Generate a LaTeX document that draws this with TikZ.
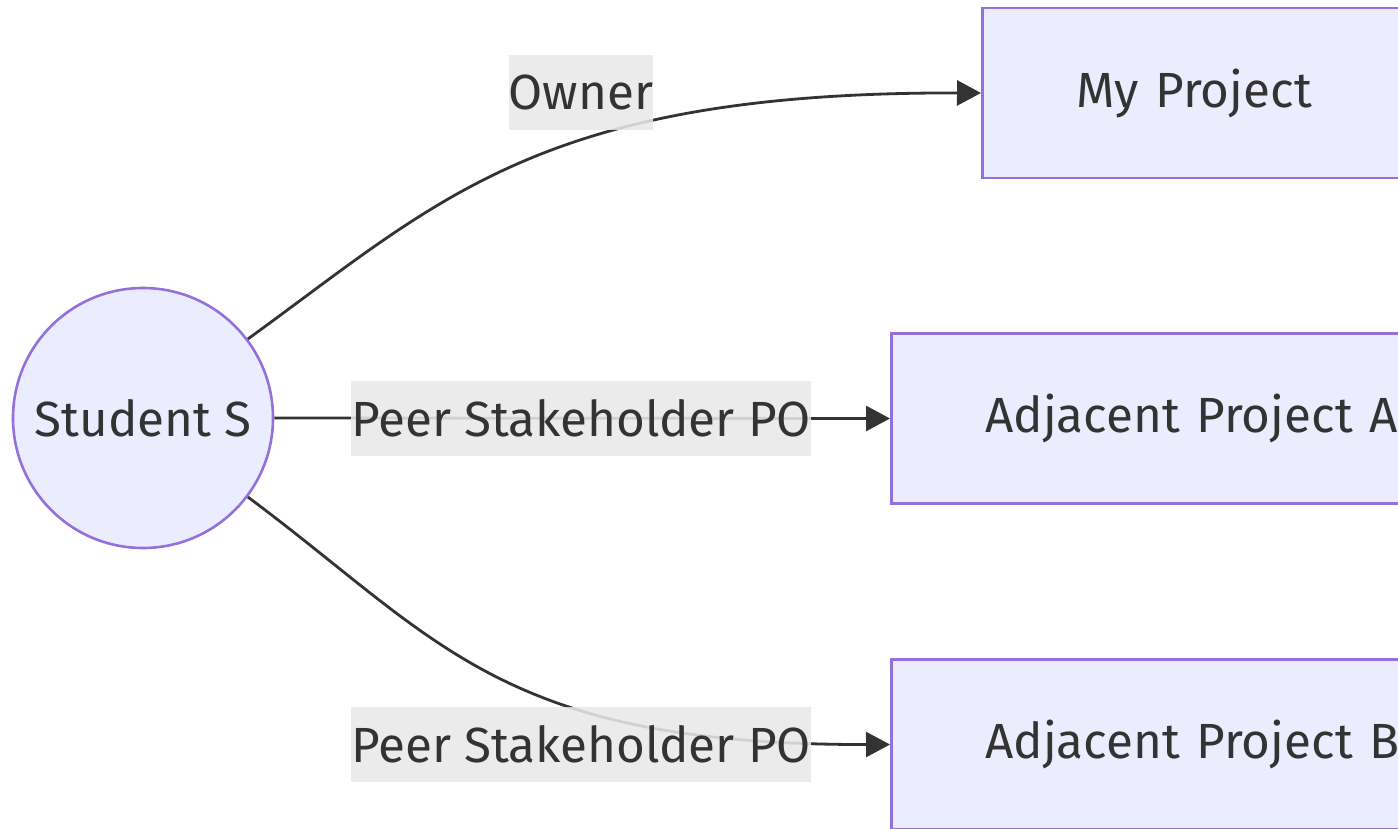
\documentclass[tikz,border=0pt]{standalone}
\usepackage{fontspec}
\setmainfont{Fira Sans}
\usetikzlibrary{arrows.meta}
\definecolor{nodefill}{HTML}{ECECFF}
\definecolor{nodeline}{HTML}{9370DB}
\definecolor{ink}{HTML}{333333}
\definecolor{lblbg}{HTML}{E8E8E8}
\begin{document}
\begin{tikzpicture}[x=1pt,y=-1pt,
  every node/.style={font=\fontsize{49.4}{59}\selectfont, text=ink},
  circ/.style={circle, draw=nodeline, fill=nodefill, line width=2.6pt, minimum size=260pt, inner sep=0pt},
  box/.style={rectangle, draw=nodeline, fill=nodefill, line width=2.6pt, minimum height=170pt, anchor=west, inner xsep=94pt, inner ysep=0pt, text width=600pt, align=left},
  lbl/.style={fill=lblbg, fill opacity=0.88, text opacity=1, inner xsep=0pt, inner ysep=0pt, minimum height=75pt},
  edge/.style={draw=ink, line width=2.8pt, -{Triangle[length=24pt,width=25pt]}}]
\useasboundingbox (0,0) rectangle (1398,829);
\clip (0,0) rectangle (1398,829);
\node[circ] (s) at (143,418) {Student S};
\node[box] (p) at (981,93) {My Project};
\node[box] (a) at (890,418.5) {Adjacent Project A};
\node[box] (b) at (890,744.5) {Adjacent Project B};
\draw[edge] (s.37) .. controls (440,200) and (540,92) .. (p.west);
\draw[edge] (s.east) -- (a.west);
\draw[edge] (s.-37) .. controls (440,640) and (500,745) .. (b.west);
\node[lbl] (l1) at (581,92.5) {Owner};
\node[lbl] (l2) at (581,418.5) {Peer Stakeholder PO};
\node[lbl] (l3) at (581,744.5) {Peer Stakeholder PO};
\end{tikzpicture}
\end{document}
